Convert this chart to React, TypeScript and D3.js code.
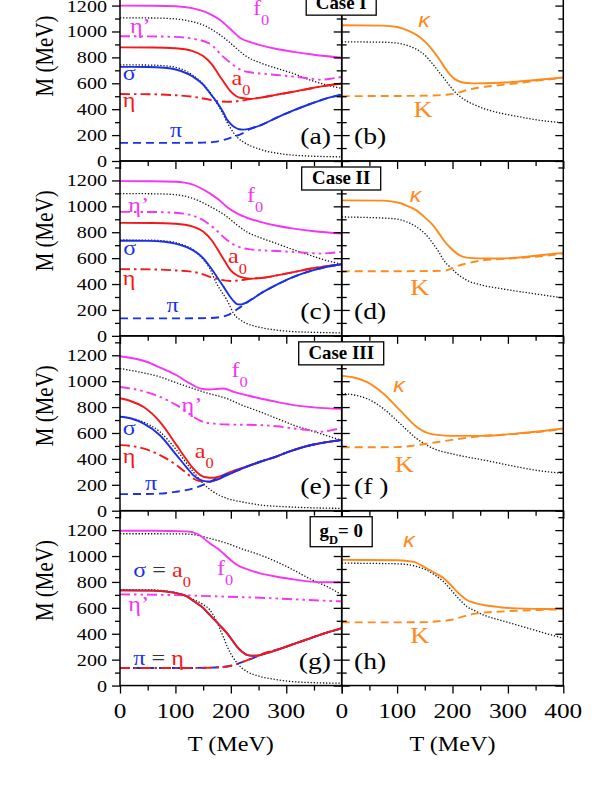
import { useRef, useEffect } from 'react';
import * as d3 from 'd3';

type Pt = [number, number];

// ---------- data: [T (MeV), M (MeV)] ----------
// Case I
const a_f0: Pt[] = [[0,1200],[60,1199],[100,1195],[130,1180],[160,1140],[180,1090],[200,1015],[217,950],[235,918],[253,895],[283,865],[313,843],[350,820],[400,797]];
const a_dotTop: Pt[] = [[0,1105],[60,1104],[90,1100],[120,1085],[150,1050],[175,990],[193,933],[210,870],[229,805],[255,755],[283,715],[313,675],[343,625],[370,590],[400,560]];
const a_etaP: Pt[] = [[0,963],[60,962],[100,958],[130,945],[162,905],[185,810],[200,755],[217,705],[235,685],[253,676],[283,664],[313,652],[340,638],[361,628],[380,635],[400,650]];
const a_a0: Pt[] = [[0,877],[60,876],[100,870],[130,850],[150,810],[165,750],[180,655],[192,580],[200,535],[210,500],[217,488],[235,480],[255,490],[283,512],[313,535],[343,560],[370,580],[400,598]];
const a_eta: Pt[] = [[0,517],[60,515],[100,508],[132,496],[160,475],[180,460],[200,458],[217,465],[235,478],[255,490],[283,512],[313,535],[343,560],[370,580],[400,598]];
const a_sigma: Pt[] = [[0,727],[50,726],[80,720],[110,695],[132,650],[150,590],[162,525],[172,470],[180,420],[187,370],[193,320],[200,285],[207,260],[215,245],[222,242],[235,250],[253,275],[283,335],[313,390],[343,440],[370,480],[400,512]];
const a_pi: Pt[] = [[0,140],[100,140],[150,142],[170,148],[185,160],[200,180],[215,202],[225,222],[235,248],[253,275],[283,335],[313,390],[343,440],[370,480],[400,512]];
const a_dotBot: Pt[] = [[0,742],[50,741],[80,735],[110,712],[132,660],[150,595],[165,515],[175,445],[185,370],[193,300],[200,250],[207,205],[215,170],[222,148],[235,118],[253,90],[270,70],[283,60],[313,45],[343,38],[400,32]];
const b_kappa: Pt[] = [[0,1048],[75,1045],[100,1035],[123,1000],[140,960],[153,910],[165,850],[177,780],[187,715],[196,665],[205,630],[214,612],[226,602],[238,599],[260,600],[286,604],[316,612],[346,624],[375,635],[400,645]];
const b_K: Pt[] = [[0,501],[100,502],[165,506],[190,512],[202,518],[215,533],[226,548],[250,568],[286,586],[316,600],[346,617],[375,630],[400,643]];
const b_dot: Pt[] = [[0,920],[75,917],[100,910],[123,885],[140,850],[153,805],[165,745],[177,680],[187,625],[196,575],[205,530],[214,497],[226,462],[238,437],[260,400],[286,370],[316,345],[346,322],[375,305],[400,296]];

// Case II
const c_f0: Pt[] = [[0,1195],[60,1194],[100,1190],[130,1170],[162,1100],[180,1045],[193,995],[211,945],[230,910],[253,880],[283,850],[313,828],[350,808],[400,790]];
const c_dotTop: Pt[] = [[0,1098],[60,1097],[100,1090],[132,1060],[160,1005],[193,920],[210,860],[229,802],[255,755],[283,712],[313,665],[343,622],[370,585],[400,553]];
const c_etaP: Pt[] = [[0,957],[60,956],[100,950],[130,930],[150,893],[170,830],[193,740],[205,705],[217,683],[235,668],[253,661],[283,655],[313,648],[343,640],[361,635],[380,640],[400,648]];
const c_a0: Pt[] = [[0,872],[60,871],[100,865],[130,845],[150,805],[165,740],[180,640],[190,570],[199,510],[208,475],[217,455],[235,442],[255,447],[283,467],[313,492],[343,518],[370,536],[400,553]];
const c_eta: Pt[] = [[0,515],[60,513],[100,505],[132,494],[150,475],[162,455],[180,435],[199,424],[215,428],[229,437],[245,445],[255,447],[283,467],[313,492],[343,518],[370,536],[400,553]];
const c_sigma: Pt[] = [[0,734],[50,733],[80,727],[100,712],[120,685],[132,660],[150,600],[162,535],[175,455],[187,378],[199,300],[205,268],[211,245],[217,242],[223,248],[235,275],[253,325],[283,395],[313,455],[343,500],[370,530],[400,553]];
const c_pi: Pt[] = [[0,135],[100,135],[160,137],[180,145],[193,158],[205,185],[217,222],[225,245],[235,275],[253,325],[283,395],[313,455],[343,500],[370,530],[400,553]];
const c_dotBot: Pt[] = [[0,740],[50,739],[80,733],[110,708],[132,665],[150,590],[162,520],[174,405],[185,330],[193,275],[199,225],[205,172],[215,130],[229,95],[250,68],[283,44],[313,33],[350,27],[400,23]];
const d_kappa: Pt[] = [[0,1046],[75,1044],[105,1026],[120,1000],[135,969],[150,915],[165,853],[175,795],[184,738],[196,680],[208,635],[217,614],[226,604],[250,598],[286,597],[316,604],[346,617],[375,630],[400,640]];
const d_K: Pt[] = [[0,499],[100,499],[184,502],[196,515],[208,537],[230,563],[256,584],[286,593],[316,600],[346,610],[375,622],[400,635]];
const d_dot: Pt[] = [[0,918],[93,905],[120,875],[135,841],[150,790],[165,712],[175,650],[184,584],[196,530],[208,481],[226,429],[250,395],[286,365],[316,345],[346,326],[375,308],[400,293]];

// Case III
const e_f0: Pt[] = [[0,1192],[48,1150],[75,1100],[102,1046],[125,985],[144,945],[162,936],[175,940],[187,943],[205,918],[230,890],[253,866],[283,840],[313,815],[350,798],[400,786]];
const e_dotTop: Pt[] = [[0,1098],[30,1075],[72,1033],[100,990],[132,943],[160,905],[193,866],[220,815],[253,763],[283,712],[313,661],[343,620],[361,596],[380,570],[400,545]];
const e_etaP: Pt[] = [[0,955],[40,925],[72,879],[102,815],[120,765],[132,725],[150,686],[170,672],[193,666],[253,661],[283,652],[313,635],[343,620],[361,609],[380,620],[400,640]];
const e_a0: Pt[] = [[0,868],[20,845],[42,802],[72,686],[102,506],[120,395],[132,326],[145,275],[155,258],[168,254],[180,265],[193,288],[220,330],[253,378],[283,420],[313,468],[343,505],[370,528],[400,545]];
const e_eta: Pt[] = [[0,506],[20,500],[42,481],[72,429],[102,352],[120,290],[132,249],[144,228],[153,224],[162,226],[175,240],[193,275],[220,325],[253,378],[283,420],[313,468],[343,505],[370,528],[400,545]];
const e_sigma: Pt[] = [[0,725],[20,712],[42,674],[72,583],[102,429],[120,335],[132,275],[145,238],[155,226],[162,224],[175,240],[193,275],[220,325],[253,378],[283,420],[313,468],[343,505],[370,528],[400,545]];
const e_pi: Pt[] = [[0,128],[60,130],[100,145],[132,172],[156,211],[175,249],[193,282],[220,326],[253,378],[283,420],[313,468],[343,505],[370,528],[400,545]];
const e_dotBot: Pt[] = [[0,727],[42,685],[72,609],[102,468],[132,301],[150,211],[168,147],[193,95],[220,68],[253,44],[300,30],[350,22],[400,18]];
const f_kappa: Pt[] = [[0,1041],[20,1030],[45,995],[75,905],[105,776],[135,648],[150,608],[165,589],[196,578],[250,578],[286,585],[316,596],[350,610],[400,635]];
const f_K: Pt[] = [[0,490],[60,490],[105,492],[135,506],[165,525],[196,545],[226,563],[256,578],[286,585],[316,593],[350,606],[400,630]];
const f_dot: Pt[] = [[0,905],[20,895],[45,866],[75,789],[105,674],[135,558],[150,515],[165,481],[196,442],[226,415],[256,391],[286,365],[316,339],[350,313],[400,288]];

// g_D = 0 (sigma = a0, pi = eta)
const g_f0: Pt[] = [[0,1195],[60,1195],[120,1190],[140,1170],[162,1098],[180,1045],[193,995],[205,950],[217,918],[235,890],[253,866],[283,840],[313,820],[343,802],[370,798],[400,798]];
const g_dotTop: Pt[] = [[0,1172],[60,1172],[120,1170],[140,1160],[162,1136],[193,1098],[220,1055],[253,1008],[283,955],[313,892],[340,830],[361,789],[380,750],[400,700]];
const g_etaP: Pt[] = [[0,704],[100,698],[193,686],[253,678],[313,666],[360,657],[400,650]];
const g_sigma: Pt[] = [[0,735],[60,733],[100,715],[120,690],[132,655],[150,600],[162,545],[180,465],[193,404],[205,335],[211,300],[220,262],[229,237],[240,230],[250,232],[265,250],[283,275],[313,320],[343,365],[370,405],[400,442]];
const g_pi: Pt[] = [[0,135],[100,135],[162,138],[180,142],[193,147],[210,165],[223,185],[240,212],[253,237],[265,255],[283,277],[313,320],[343,365],[370,405],[400,442]];
const g_dotBot: Pt[] = [[0,740],[60,738],[100,718],[132,665],[150,625],[162,585],[172,515],[180,440],[187,370],[193,305],[202,230],[211,175],[220,135],[229,108],[253,70],[283,45],[313,30],[350,22],[400,18]];
const h_kappa: Pt[] = [[0,970],[100,968],[130,955],[153,905],[170,865],[184,828],[196,780],[208,725],[217,690],[226,661],[240,638],[256,622],[286,605],[316,596],[350,592],[400,591]];
const h_K: Pt[] = [[0,488],[100,488],[153,490],[175,496],[196,506],[217,530],[238,553],[260,565],[286,571],[316,578],[350,583],[400,589]];
const h_dot: Pt[] = [[0,945],[100,940],[130,925],[153,892],[170,848],[184,802],[196,745],[208,686],[217,645],[226,609],[240,578],[256,545],[286,505],[316,468],[350,425],[400,365]];

const xMajor = [0, 100, 200, 300, 400];
const xMinor = [50, 150, 250, 350];
const yMajor = [0, 200, 400, 600, 800, 1000, 1200];
const yMinor = [100, 300, 500, 700, 900, 1100, 1300];
const panelNames = [['(a)', '(b)'], ['(c)', '(d)'], ['(e)', '(f )'], ['(g)', '(h)']];
const caseNames = ['Case I', 'Case II', 'Case III', 'gD'];

// ---------- styles / layout ----------
const SERIF = '"Liberation Serif", "Times New Roman", serif';
const SANS = '"Liberation Sans", Arial, sans-serif';
const SX = 1.15;
const MAGENTA = '#f436f4';
const RED = '#f41818';
const BLUE = '#1b30e6';
const ORANGE = '#ff8a1c';

const STYLE: Record<string, { color: string; dash?: string; width?: number }> = {
	f0: { color: MAGENTA },
	etaP: { color: MAGENTA, dash: '10,4,2.5,4,2.5,4' },
	a0: { color: RED },
	eta: { color: RED, dash: '10,4,2.5,4' },
	sigma: { color: BLUE },
	pi: { color: BLUE, dash: '8,5' },
	kappa: { color: ORANGE },
	K: { color: ORANGE, dash: '8,5' },
	dot: { color: '#111', dash: '1.3,1.8', width: 1.3 },
};

const X0 = 120;
const XM = 341.7;
const X2 = 563.3;
const BOT0 = 161;
const PH = 174.85;
const BOX_W = [70, 79, 85, 62];

type Part = { t: string; color?: string; sub?: boolean };
type Lbl = { x: number; y: number; parts: Part[]; size?: number; anchor?: string; italic?: boolean; sans?: boolean };

const kap = (x: number, y: number): Lbl => ({ x, y, parts: [{ t: 'κ', color: ORANGE }], size: 20, italic: true, sans: true });
const bigK = (x: number, y: number): Lbl => ({ x, y, parts: [{ t: 'K', color: ORANGE }], size: 23, anchor: 'middle' });

const rows = [
	{
		left: [['dot', a_dotTop], ['dot', a_dotBot], ['f0', a_f0], ['etaP', a_etaP], ['eta', a_eta], ['a0', a_a0], ['pi', a_pi], ['sigma', a_sigma]],
		right: [['dot', b_dot], ['K', b_K], ['kappa', b_kappa]],
		leftLabels: [
			{ x: 240, y: 1127, parts: [{ t: 'f', color: MAGENTA }, { t: '0', color: MAGENTA, sub: true }] },
			{ x: 18, y: 985, parts: [{ t: 'η’', color: MAGENTA }] },
			{ x: 5, y: 625, parts: [{ t: 'σ', color: BLUE }] },
			{ x: 201, y: 587, parts: [{ t: 'a', color: RED }, { t: '0', color: RED, sub: true }] },
			{ x: 5, y: 420, parts: [{ t: 'η', color: RED }] },
			{ x: 90, y: 188, parts: [{ t: 'π', color: BLUE }] },
		],
		rightLabels: [kap(138, 1032), bigK(147, 342)],
	},
	{
		left: [['dot', c_dotTop], ['dot', c_dotBot], ['f0', c_f0], ['etaP', c_etaP], ['eta', c_eta], ['a0', c_a0], ['pi', c_pi], ['sigma', c_sigma]],
		right: [['dot', d_dot], ['K', d_K], ['kappa', d_kappa]],
		leftLabels: [
			{ x: 229, y: 1035, parts: [{ t: 'f', color: MAGENTA }, { t: '0', color: MAGENTA, sub: true }] },
			{ x: 15, y: 960, parts: [{ t: 'η’', color: MAGENTA }] },
			{ x: 6, y: 623, parts: [{ t: 'σ', color: BLUE }] },
			{ x: 195, y: 559, parts: [{ t: 'a', color: RED }, { t: '0', color: RED, sub: true }] },
			{ x: 5, y: 395, parts: [{ t: 'η', color: RED }] },
			{ x: 84, y: 185, parts: [{ t: 'π', color: BLUE }] },
		],
		rightLabels: [kap(123, 1035), bigK(141, 314)],
	},
	{
		left: [['dot', e_dotTop], ['dot', e_dotBot], ['f0', e_f0], ['etaP', e_etaP], ['eta', e_eta], ['a0', e_a0], ['pi', e_pi], ['sigma', e_sigma]],
		right: [['dot', f_dot], ['K', f_K], ['kappa', f_kappa]],
		leftLabels: [
			{ x: 201, y: 1034, parts: [{ t: 'f', color: MAGENTA }, { t: '0', color: MAGENTA, sub: true }] },
			{ x: 111, y: 759, parts: [{ t: 'η’', color: MAGENTA }] },
			{ x: 5, y: 584, parts: [{ t: 'σ', color: BLUE }] },
			{ x: 135, y: 404, parts: [{ t: 'a', color: RED }, { t: '0', color: RED, sub: true }] },
			{ x: 5, y: 369, parts: [{ t: 'η', color: RED }] },
			{ x: 45, y: 159, parts: [{ t: 'π', color: BLUE }] },
		],
		rightLabels: [kap(93, 918), bigK(113, 296)],
	},
	{
		left: [['dot', g_dotTop], ['dot', g_dotBot], ['f0', g_f0], ['etaP', g_etaP], ['pi', g_pi], ['sigma', g_sigma], ['eta', g_pi], ['a0', g_sigma]],
		right: [['dot', h_dot], ['K', h_K], ['kappa', h_kappa]],
		leftLabels: [
			{ x: 24, y: 841, parts: [{ t: 'σ', color: BLUE }, { t: ' = ', color: '#333' }, { t: 'a', color: RED }, { t: '0', color: RED, sub: true }] },
			{ x: 175, y: 854, parts: [{ t: 'f', color: MAGENTA }, { t: '0', color: MAGENTA, sub: true }] },
			{ x: 15, y: 576, parts: [{ t: 'η’', color: MAGENTA }] },
			{ x: 24, y: 159, parts: [{ t: 'π', color: BLUE }, { t: ' = ', color: '#333' }, { t: 'η', color: RED }] },
		],
		rightLabels: [kap(111, 1068), bigK(141, 327)],
	},
] as { left: [string, Pt[]][]; right: [string, Pt[]][]; leftLabels: Lbl[]; rightLabels: Lbl[] }[];

function addText(g: any, x: number, y: number, parts: Part[], o: { size: number; anchor?: string; weight?: string; italic?: boolean; family?: string; sx?: number }) {
	const t = g
		.append('text')
		.attr('transform', `translate(${x},${y}) scale(${o.sx ?? SX},1)`)
		.attr('font-family', o.family ?? SERIF)
		.attr('font-size', o.size)
		.attr('text-anchor', o.anchor ?? 'start');
	if (o.weight) t.attr('font-weight', o.weight);
	if (o.italic) t.attr('font-style', 'italic');
	const subDy = o.size * 0.48;
	let shifted = false;
	parts.forEach((p) => {
		const ts = t.append('tspan').text(p.t).attr('fill', p.color ?? '#000');
		if (p.sub) {
			ts.attr('dy', subDy).attr('font-size', o.size * 0.68);
			shifted = true;
		} else if (shifted) {
			ts.attr('dy', -subDy);
			shifted = false;
		}
	});
	return t;
}

export default function App() {
	const svgRef = useRef<SVGSVGElement>(null);

	useEffect(() => {
		const svg = d3.select(svgRef.current);
		svg.selectAll('*').remove();

		const xL = d3.scaleLinear().domain([0, 400]).range([X0, XM]);
		const xR = d3.scaleLinear().domain([0, 400]).range([XM, X2]);

		const tickStyle = (s: any) => {
			s.select('.domain').remove();
			s.selectAll('line').attr('stroke', '#000').attr('stroke-width', 1.3);
		};

		rows.forEach((row, i) => {
			const bottom = BOT0 + i * PH;
			const top = bottom - PH;
			const y = d3.scaleLinear().domain([0, 1350]).range([bottom, top]);
			const g = svg.append('g');

			// curves
			const drawSeries = (list: [string, Pt[]][], x: d3.ScaleLinear<number, number>) => {
				const line = d3
					.line<Pt>()
					.x((d) => x(d[0]))
					.y((d) => y(d[1]))
					.curve(d3.curveMonotoneX);
				list.forEach(([key, data]) => {
					const st = STYLE[key];
					g.append('path')
						.attr('d', line(data))
						.attr('fill', 'none')
						.attr('stroke', st.color)
						.attr('stroke-width', st.width ?? 1.9)
						.attr('stroke-dasharray', st.dash ?? null)
						.attr('stroke-linejoin', 'round');
				});
			};
			drawSeries(row.left, xL);
			drawSeries(row.right, xR);

			// frames
			g.append('rect').attr('x', X0).attr('y', top).attr('width', XM - X0).attr('height', PH)
				.attr('fill', 'none').attr('stroke', '#000').attr('stroke-width', 1.5);
			g.append('rect').attr('x', XM).attr('y', top).attr('width', X2 - XM).attr('height', PH)
				.attr('fill', 'none').attr('stroke', '#000').attr('stroke-width', 1.5);

			// y ticks: left edge (out), middle (both sides), right edge (in)
			const yAx = (x: number, dir: 'L' | 'R') => {
				const mk = dir === 'L' ? d3.axisLeft : d3.axisRight;
				g.append('g').attr('transform', `translate(${x},0)`)
					.call(mk(y).tickValues(yMajor).tickSize(8).tickSizeOuter(0).tickFormat(() => ''))
					.call(tickStyle);
				g.append('g').attr('transform', `translate(${x},0)`)
					.call(mk(y).tickValues(yMinor).tickSize(5).tickSizeOuter(0).tickFormat(() => ''))
					.call(tickStyle);
			};
			yAx(X0, 'L');
			yAx(XM, 'L');
			yAx(XM, 'R');
			yAx(X2, 'L');

			// x ticks (downward) at the bottom of each row
			[xL, xR].forEach((x) => {
				g.append('g').attr('transform', `translate(0,${bottom})`)
					.call(d3.axisBottom(x).tickValues(xMajor).tickSize(8).tickSizeOuter(0).tickFormat(() => ''))
					.call(tickStyle);
				g.append('g').attr('transform', `translate(0,${bottom})`)
					.call(d3.axisBottom(x).tickValues(xMinor).tickSize(5).tickSizeOuter(0).tickFormat(() => ''))
					.call(tickStyle);
			});

			// y tick labels
			yMajor.forEach((v) => {
				addText(g, 107, y(v) + 6, [{ t: String(v) }], { size: 17.5, anchor: 'end' });
			});

			// y title
			g.append('text')
				.attr('transform', `translate(53,${bottom - 105}) scale(${SX},1) rotate(-90)`)
				.attr('font-family', SERIF)
				.attr('font-size', 21)
				.attr('text-anchor', 'middle')
				.text('M (MeV)');

			// curve labels
			row.leftLabels.forEach((l) =>
				addText(g, xL(l.x), y(l.y), l.parts, {
					size: l.size ?? 21, anchor: l.anchor, italic: l.italic, family: l.sans ? SANS : SERIF,
				}),
			);
			row.rightLabels.forEach((l) =>
				addText(g, xR(l.x), y(l.y), l.parts, {
					size: l.size ?? 21, anchor: l.anchor, italic: l.italic, family: l.sans ? SANS : SERIF,
				}),
			);

			// panel letters
			addText(g, 331, bottom - 17, [{ t: panelNames[i][0] }], { size: 24, anchor: 'end' });
			addText(g, 354, bottom - 17, [{ t: panelNames[i][1] }], { size: 24 });

			// case box
			const bw = BOX_W[i];
			const bh = caseNames[i] === 'gD' ? 30 : 23;
			const by = top + 6;
			g.append('rect').attr('x', XM - 0.5 - bw / 2).attr('y', by).attr('width', bw).attr('height', bh)
				.attr('fill', '#fff').attr('stroke', '#000').attr('stroke-width', 1.3);
			if (caseNames[i] === 'gD') {
				const t = g.append('text')
					.attr('transform', `translate(${XM - 0.5},${by + 20}) scale(1.05,1)`)
					.attr('font-family', SERIF).attr('font-size', 18).attr('font-weight', 'bold')
					.attr('text-anchor', 'middle');
				t.append('tspan').text('g');
				t.append('tspan').text('D').attr('font-size', 12).attr('dy', 7);
				t.append('tspan').text('= 0').attr('dy', -7);
			} else {
				addText(g, XM - 0.5, by + 17, [{ t: caseNames[i] }], { size: 18, anchor: 'middle', weight: 'bold', sx: 1.05 });
			}
		});

		// bottom tick labels and titles
		const lastBottom = BOT0 + 3 * PH;
		xMajor.slice(0, 4).forEach((v) => addText(svg, xL(v), lastBottom + 32, [{ t: String(v) }], { size: 22, anchor: 'middle' }));
		xMajor.forEach((v) => addText(svg, xR(v), lastBottom + 32, [{ t: String(v) }], { size: 22, anchor: 'middle' }));
		addText(svg, (X0 + XM) / 2, lastBottom + 65, [{ t: 'T (MeV)' }], { size: 21, anchor: 'middle' });
		addText(svg, (XM + X2) / 2, lastBottom + 65, [{ t: 'T (MeV)' }], { size: 21, anchor: 'middle' });
	}, []);

	return (
		<svg
			ref={svgRef}
			width={606}
			height={785}
			style={{ position: 'absolute', left: 0, top: 0, display: 'block', background: '#fff' }}
		/>
	);
}
